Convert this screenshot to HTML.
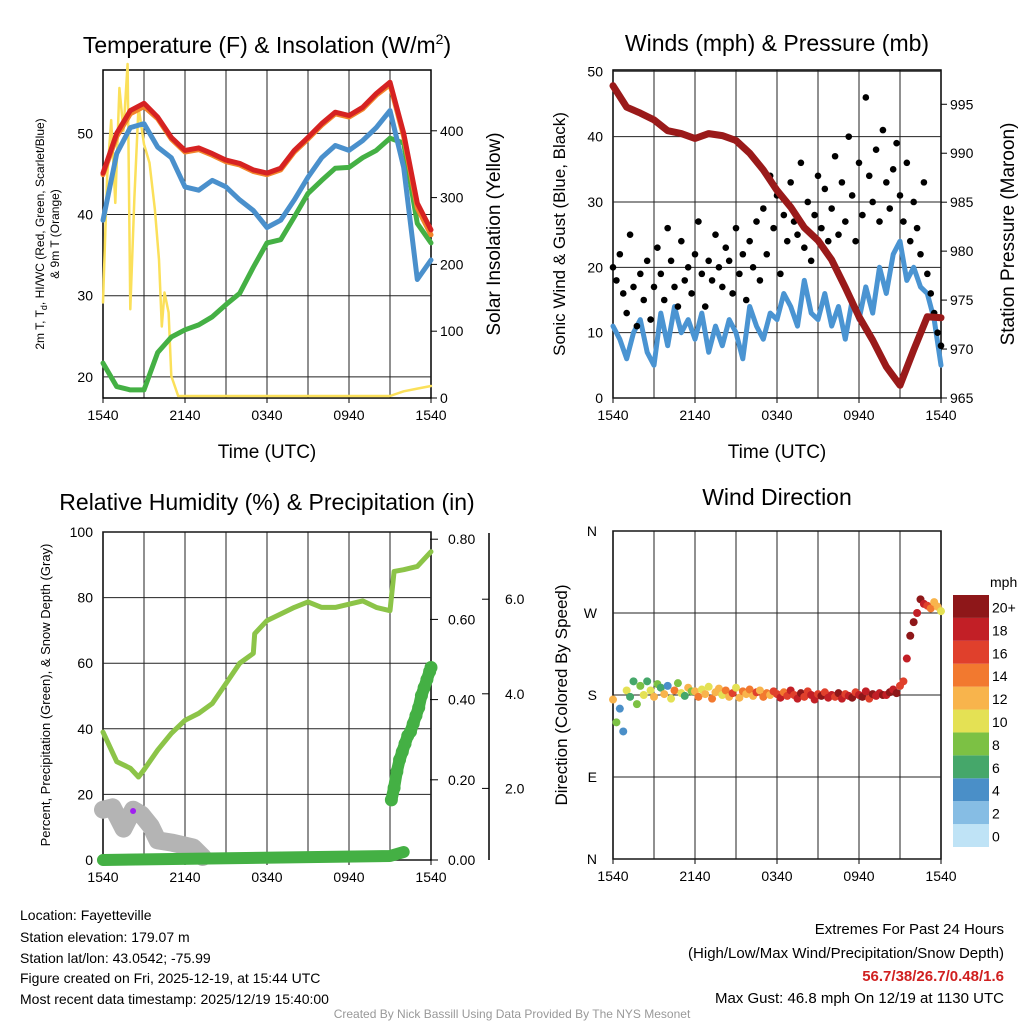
<!DOCTYPE html>
<html><head><meta charset="utf-8">
<style>
body{margin:0;background:#fff;}
svg{display:block;font-family:"Liberation Sans",sans-serif;}
</style></head>
<body>
<svg id="c" width="1024" height="1024" viewBox="0 0 1024 1024" xmlns="http://www.w3.org/2000/svg">
<rect width="1024" height="1024" fill="#fff"/>
<g id="g"></g>
<text x="267" y="53" font-size="23" text-anchor="middle">Temperature (F) &amp; Insolation (W/m<tspan font-size="14" dy="-9">2</tspan><tspan dy="9">)</tspan></text>
<text x="777" y="51" font-size="23" text-anchor="middle">Winds (mph) &amp; Pressure (mb)</text>
<text x="267" y="510" font-size="23" text-anchor="middle">Relative Humidity (%) &amp; Precipitation (in)</text>
<text x="777" y="505" font-size="23" text-anchor="middle">Wind Direction</text>
<text x="267" y="458" font-size="19" text-anchor="middle">Time (UTC)</text>
<text x="777" y="458" font-size="19" text-anchor="middle">Time (UTC)</text>
<text transform="translate(44,234) rotate(-90)" font-size="12" text-anchor="middle">2m T, T<tspan font-size="9" dy="3">d</tspan><tspan dy="-3">, HI/WC (Red, Green, Scarlet/Blue)</tspan></text>
<text transform="translate(59,234) rotate(-90)" font-size="12" text-anchor="middle">&amp; 9m T (Orange)</text>
<text transform="translate(500,234) rotate(-90)" font-size="19" text-anchor="middle">Solar Insolation (Yellow)</text>
<text transform="translate(565,234) rotate(-90)" font-size="17" text-anchor="middle">Sonic Wind &amp; Gust (Blue, Black)</text>
<text transform="translate(1014,234) rotate(-90)" font-size="19" text-anchor="middle">Station Pressure (Maroon)</text>
<text transform="translate(50,695) rotate(-90)" font-size="13" text-anchor="middle">Percent, Precipitation (Green), &amp; Snow Depth (Gray)</text>
<text transform="translate(567,695) rotate(-90)" font-size="17" text-anchor="middle">Direction (Colored By Speed)</text>
<g font-size="14">
<text x="20" y="920">Location: Fayetteville</text>
<text x="20" y="942">Station elevation: 179.07 m</text>
<text x="20" y="963">Station lat/lon: 43.0542; -75.99</text>
<text x="20" y="983">Figure created on Fri, 2025-12-19, at 15:44 UTC</text>
<text x="20" y="1004">Most recent data timestamp: 2025/12/19 15:40:00</text>
</g>
<g font-size="15" text-anchor="end">
<text x="1004" y="934">Extremes For Past 24 Hours</text>
<text x="1004" y="958">(High/Low/Max Wind/Precipitation/Snow Depth)</text>
<text x="1004" y="981" fill="#d02020" font-weight="bold">56.7/38/26.7/0.48/1.6</text>
<text x="1004" y="1003">Max Gust: 46.8 mph On 12/19 at 1130 UTC</text>
</g>
<text x="512" y="1018" font-size="12" fill="#999" text-anchor="middle">Created By Nick Bassill Using Data Provided By The NYS Mesonet</text>
</svg>
<script>
const hours=[0,1,2,3,4,5,6,7,8,9,10,11,12,13,14,15,16,17,18,19,20,21,22,23,24];
const timeTicks=["1540","2140","0340","0940","1540"];
const tempRed=[45.1,50,52.8,53.7,52,49.5,47.9,48.2,47.5,46.7,46.3,45.5,45.1,45.7,47.9,49.5,51.2,52.6,52.2,53.2,54.9,56.3,50,41.4,38.1];
const tempOrange=[44.9,49.6,52.4,53.3,51.8,49.3,47.7,48,47.3,46.5,46.1,45.3,44.9,45.5,47.7,49.3,51,52.4,52,53,54.7,56,49.6,40.8,37.5];
const tempBlue=[39.3,47.5,50.7,51.2,48.3,47,43.4,43,44.2,43.4,41.8,40.5,38.4,39.3,41.8,44.6,47,48.5,47.9,49.1,50.7,52.8,45.8,32,34.4];
const dewGreen=[21.7,18.8,18.4,18.4,23,24.9,25.8,26.4,27.4,28.9,30.3,33.5,36.5,36.9,39.7,42.6,44.2,45.7,45.8,47,47.9,49.4,48.8,38.9,36.5];
const solarHours=[0,0.3,0.6,0.9,1.2,1.5,1.8,2.0,2.3,2.6,3.0,3.4,3.8,4.1,4.3,4.5,4.8,5.0,5.5,21,22,23,24];
const solarVals=[143,330,416,292,464,400,500,133,300,436,380,352,282,207,107,158,128,33,3,3,10,14,18];
const tempTicks=[20,30,40,50];
const solarTicks=[0,100,200,300,400];
const pressure=[996.9,994.7,994.1,993.4,992.3,992,991.5,992,991.8,991.3,990,988.3,986.2,984.5,982.4,981.1,979.1,976.3,973.3,970.9,968.2,966.3,969.9,973.3,973.2];
const windSpeed=[11,9,6,10,12,7,5,13,8,14,10,12,9,13,7,11,8,12,10,6,14,11,9,13,12,16,14,11,18,13,12,16,11,14,9,15,12,17,13,20,16,22,24,18,20,17,16,12,5];
const windGust=[20,18,22,16,13,25,17,11,19,15,21,12,17,23,19,15,26,21,17,14,24,18,20,16,
22,27,19,14,21,18,25,20,17,23,21,16,26,19,22,15,24,20,27,18,
29,22,34,26,31,19,28,24,33,27,25,36,23,30,21,28,34,26,32,24,
29,37,25,33,27,40,31,24,36,28,46,34,30,38,27,41,33,29,35,39,
31,27,36,24,30,26,22,33,19,16,13,10,8];
const windTicks=[0,10,20,30,40,50];
const presTicks=[965,970,975,980,985,990,995];
const rhHours=[0,1,2,2.6,3,4,5,6,7,8,9,10,11,11.1,12,13,14,15,16,17,18,19,20,21,21.3,22,23,24];
const rh=[39,30,28,25.3,27.5,33.5,38.6,42.6,44.7,47.7,53.8,60,63,69,73,75,77,78.7,77,77,78,79,77,76,88,88.5,89.5,94];
const precipHours=[0,21,22];
const precipVals=[0,0.01,0.02];
const precipDotHours=[21.1,21.3,21.5,21.7,21.9,22.1,22.3,22.5,22.7,22.9,23.1,23.3,23.5,23.7,23.9,24];
const precipDotVals=[0.15,0.18,0.22,0.25,0.27,0.29,0.31,0.32,0.34,0.36,0.38,0.41,0.43,0.45,0.47,0.48];
const snowHours=[0,0.7,1.5,2.2,2.8,3.5,4,5.1,6.6,7.3];
const snowDepth=[1.55,1.6,1.15,1.55,1.45,1.2,0.9,0.85,0.75,0.55];
const rhTicks=[0,20,40,60,80,100];
const precipTicks=["0.00","0.20","0.40","0.60","0.80"];
const snowTicks=["2.0","4.0","6.0"];
const windDir=[175,150,165,140,185,178,195,170,
190,180,195,185,178,192,188,181,190,176,185,193,182,179,188,184,
184,178,186,181,189,176,183,187,180,185,178,182,188,177,184,181,186,179,183,185,178,182,180,184,
181,177,183,179,185,180,176,182,178,184,180,175,181,179,183,177,180,178,182,176,181,179,177,183,180,178,184,176,181,179,182,180,
180,183,186,182,190,195,220,245,260,270,285,280,278,275,282,277,272];
const dirSpeed=[12,8,5,4,10,7,6,9,
8,11,6,10,13,9,7,12,5,10,14,8,11,7,12,9,
12,14,10,13,11,15,12,13,10,14,12,16,11,13,15,12,14,13,16,12,15,14,13,16,
16,18,15,17,19,16,18,20,17,16,19,18,17,20,16,18,19,17,21,18,16,19,20,17,18,21,19,17,20,18,19,22,
18,20,19,21,17,16,18,20,22,19,21,18,16,14,12,13,10];
const dirLabels=["N","E","S","W","N"];
const speedBinLabels=["0","2","4","6","8","10","12","14","16","18","20+"];
const speedColors=["#bfe3f6","#86bde4","#4a8fc8","#45a76a","#7cc144","#e4e154","#f8b44c","#f2792f","#e0402c","#c21f26","#8e1719"];

const NS="http://www.w3.org/2000/svg";
const G=document.getElementById('g');
function el(t,a,p){const e=document.createElementNS(NS,t);for(const k in a)e.setAttribute(k,a[k]);(p||G).appendChild(e);return e;}
function txt(s,a,p){const e=el('text',a,p);e.textContent=s;return e;}
const W=328,HH=328;
function xs(x0){return h=>x0+h*W/24;}
function ys(y0,lo,hi){return v=>y0+HH-(v-lo)/(hi-lo)*HH;}
function frame(x0,y0,name){
  const g=el('g',{});
  
  
  for(let h=3;h<24;h+=3){el('line',{x1:xs(x0)(h),x2:xs(x0)(h),y1:y0,y2:y0+HH,stroke:'#222','stroke-width':1},g);}
  el('rect',{x:x0,y:y0,width:W,height:HH,fill:'none',stroke:'#000','stroke-width':1.5},g);
  timeTicks.forEach((t,i)=>{const x=x0+i*W/4;el('line',{x1:x,x2:x,y1:y0+HH,y2:y0+HH+5,stroke:'#000'},g);
    const lab=txt(t,{x:x,y:y0+HH+22,'font-size':14,'text-anchor':'middle'},g);
    
    });
  return g;
}
function hgrid(g,x0,vals,sc,labs,side){
  vals.forEach((v,i)=>{const y=sc(v);
    if(side==='left'){el('line',{x1:x0,x2:x0+W,y1:y,y2:y,stroke:'#222'},g);
      const t=txt(labs?labs[i]:v,{x:x0-10,y:y+5,'font-size':14,'text-anchor':'end'},g);
      
      }
    else{el('line',{x1:x0+W,x2:x0+W+6,y1:y,y2:y,stroke:'#000'},g);
      const t=txt(labs?labs[i]:v,{x:x0+W+9,y:y+5,'font-size':14},g);
      
      }
  });
}
function line(xsArr,ysArr,X,Y,col,w,name){
  const d=xsArr.map((h,i)=>(i?'L':'M')+X(h).toFixed(1)+','+Y(ysArr[i]).toFixed(1)).join('');
  const p=el('path',{d:d,fill:'none',stroke:col,'stroke-width':w,'stroke-linejoin':'round','stroke-linecap':'round'});
  
  
  return p;
}
// Panel 1
{const x0=103,y0=70;const g=frame(x0,y0,'temp-panel');const X=xs(x0);const T=ys(y0,17.4,57.8);const S=ys(y0,0,491);
 hgrid(g,x0,tempTicks,T,null,'left');hgrid(g,x0,solarTicks,S,null,'right');
 line(solarHours,solarVals,X,S,'#fbe05a',2.5,'solar-line');
 line(hours,dewGreen,X,T,'#44b044',5,'dewpoint-line');
 line(hours,tempOrange,X,T,'#f2842a',5,'temp-9m-line');
 line(hours,tempRed,X,T,'#d62222',5,'temp-2m-line');
 line(hours,tempBlue,X,T,'#4a90cc',5,'windchill-line');}
// Panel 2
{const x0=613,y0=70;const g=frame(x0,y0,'wind-panel');const X=xs(x0);const Wy=ys(y0,0,50.2);const P=ys(y0,965,998.5);
 hgrid(g,x0,windTicks,Wy,null,'left');hgrid(g,x0,presTicks,P,null,'right');
 const wh=windSpeed.map((v,i)=>i*24/(windSpeed.length-1));
 line(wh,windSpeed,X,Wy,'#4a94d2',5,'sonic-wind-line');
 windGust.forEach((v,i)=>{const c=el('circle',{cx:X(i*24/(windGust.length-1)),cy:Wy(v),r:3.3,fill:'#000'});
   
   });
 line(hours,pressure,X,P,'#9a1a1a',7,'pressure-line');}
// Panel 3
{const x0=103,y0=532;const g=frame(x0,y0,'rh-panel');const X=xs(x0);const R=ys(y0,0,100);
 const Pr=v=>860-v*401;const Sn=v=>883-v*47.3;
 hgrid(g,x0,rhTicks,R,null,'left');
 [0,0.2,0.4,0.6,0.8].forEach((v,i)=>{const y=Pr(v);el('line',{x1:430,x2:438,y1:y,y2:y,stroke:'#000'},g);
   const t=txt(precipTicks[i],{x:448,y:y+5,'font-size':14},g);
   
   });
 el('line',{x1:489,x2:489,y1:y0+1,y2:y0+HH,stroke:'#000','stroke-width':1.5},g);
 [2,4,6].forEach((v,i)=>{const y=Sn(v);el('line',{x1:489,x2:482,y1:y,y2:y,stroke:'#000'},g);
   const t=txt(snowTicks[i],{x:505,y:y+5,'font-size':14},g);
   
   });
 line(snowHours,snowDepth,X,Sn,'#b4b4b4',18,'snow-depth-line');
 const pp=el('circle',{cx:X(2.2),cy:811,r:3,fill:'#a020f0'});
 
 
 line(rhHours,rh,X,R,'#8cc448',5,'rh-line');
 line(precipHours,precipVals,X,Pr,'#44b044',12,'precip-line');
 line(precipDotHours,precipDotVals,X,Pr,'#44b044',12,'precip-dots-line');
 precipDotHours.forEach((h,i)=>{const c=el('circle',{cx:X(h),cy:Pr(precipDotVals[i]),r:6.5,fill:'#44b044'});
   
   });}
// Panel 4
{const x0=613,y0=531;const g=frame(x0,y0,'wdir-panel');const X=xs(x0);const D=ys(y0,0,360);
 [0,90,180,270,360].forEach((v,i)=>{const y=D(v);el('line',{x1:x0,x2:x0+W,y1:y,y2:y,stroke:'#222'},g);
   const t=txt(dirLabels[i],{x:x0-16,y:y+5,'font-size':14,'text-anchor':'end'},g);
   
   });
 windDir.forEach((v,i)=>{const s=dirSpeed[i];const b=Math.min(10,Math.floor(s/2));
   const c=el('circle',{cx:X(i*24/(windDir.length-1)),cy:D(v),r:4,fill:speedColors[b]});
   
   });
 const cb=el('g',{});
 
 
 const bh=252/11;
 speedColors.forEach((c,i)=>{const y=847-(i+1)*bh;el('rect',{x:953,y:y,width:36,height:bh,fill:c},cb);
   txt(speedBinLabels[i],{x:992,y:y+bh/2+6,'font-size':14},cb);});
 txt('mph',{x:990,y:587,'font-size':14},cb);}
</script>
</body></html>
